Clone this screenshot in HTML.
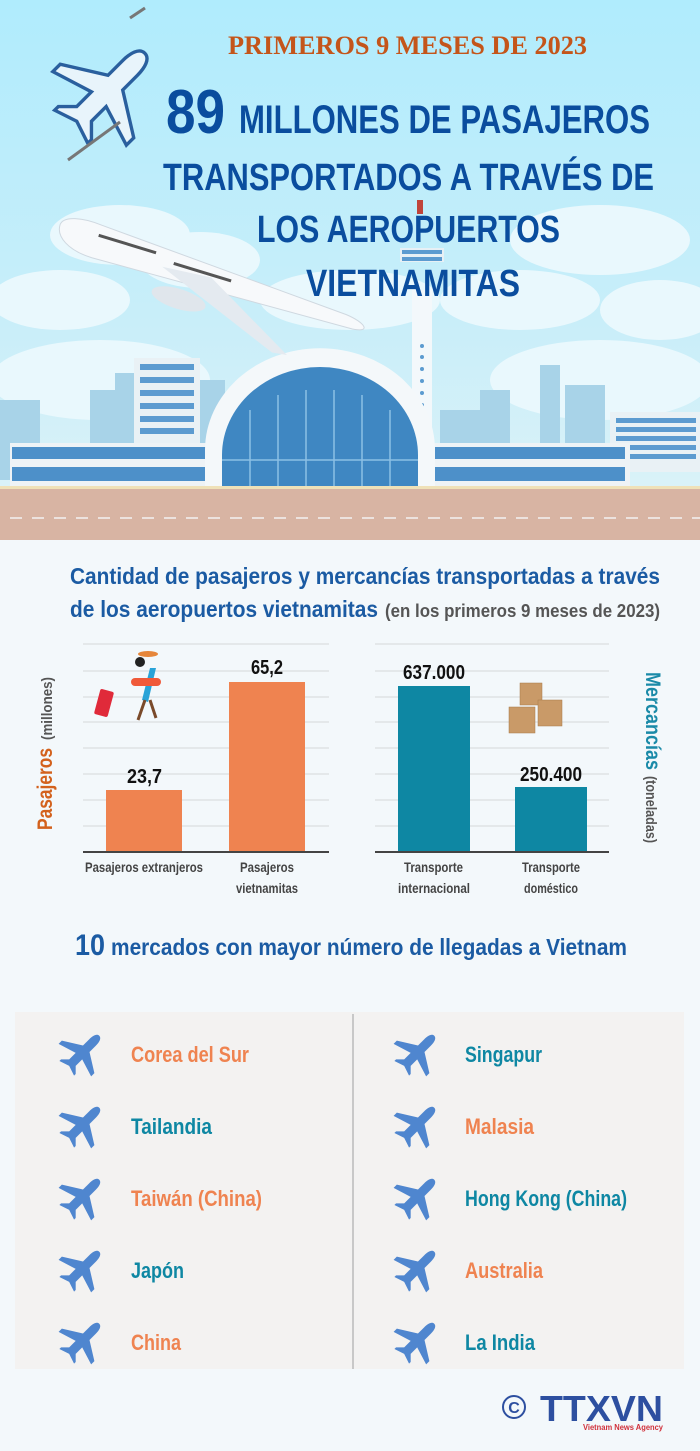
<!DOCTYPE html>
<html><head><meta charset="utf-8"><style>
html,body{margin:0;padding:0;background:#f3f8fb}
svg{display:block}
text{font-family:"Liberation Sans Narrow","Liberation Sans",sans-serif;font-weight:bold}
</style></head><body>
<svg width="700" height="1451" viewBox="0 0 700 1451" xmlns="http://www.w3.org/2000/svg">
<defs>
<linearGradient id="sky" x1="0" y1="0" x2="0" y2="1">
<stop offset="0" stop-color="#b0ecfd"/><stop offset="0.6" stop-color="#c9eef9"/><stop offset="1" stop-color="#dff3f8"/>
</linearGradient>
<g id="pl"><path d="M0,-20 C3,-20 4,-16 4,-12 L4,-4 L20,6 L20,10 L4,5 L4,13 L9,18 L9,20 L0,17 L-9,20 L-9,18 L-4,13 L-4,5 L-20,10 L-20,6 L-4,-4 L-4,-12 C-4,-16 -3,-20 0,-20Z" fill="#4f86cf"/></g>
</defs>
<rect x="0" y="0" width="700" height="540" fill="url(#sky)"/>
<g fill="#e9f8fd">
<ellipse cx="120" cy="235" rx="70" ry="30"/><ellipse cx="60" cy="300" rx="70" ry="30"/><ellipse cx="200" cy="260" rx="60" ry="28"/>
<ellipse cx="600" cy="240" rx="90" ry="35"/><ellipse cx="520" cy="300" rx="80" ry="30"/><ellipse cx="660" cy="310" rx="60" ry="30"/>
<ellipse cx="350" cy="300" rx="90" ry="30"/><ellipse cx="100" cy="380" rx="110" ry="40"/><ellipse cx="600" cy="380" rx="110" ry="40"/>
</g>
<g fill="#a8d3e8">
<rect x="0" y="400" width="40" height="80"/><rect x="90" y="390" width="40" height="90"/><rect x="115" y="373" width="20" height="100"/>
<rect x="200" y="380" width="25" height="100"/><rect x="480" y="390" width="30" height="90"/><rect x="540" y="365" width="20" height="115"/>
<rect x="565" y="385" width="40" height="95"/><rect x="440" y="410" width="40" height="70"/><rect x="250" y="405" width="40" height="75"/>
</g>
<rect x="412" y="290" width="20" height="140" fill="#f3f8fb"/>
<rect x="400" y="248" width="44" height="14" fill="#e7f0f5"/><rect x="402" y="250" width="40" height="4" fill="#5c9bd0"/><rect x="402" y="257" width="40" height="4" fill="#5c9bd0"/>
<rect x="417" y="200" width="6" height="14" fill="#c0443a"/>
<g fill="#5c9bd0"><circle cx="422" cy="346" r="2"/><circle cx="422" cy="357" r="2"/><circle cx="422" cy="369" r="2"/><circle cx="422" cy="381" r="2"/><circle cx="422" cy="393" r="2"/><circle cx="422" cy="405" r="2"/></g>
<rect x="134" y="358" width="66" height="90" fill="#e9f1f5"/>
<g fill="#5c9bd0"><rect x="140" y="364" width="54" height="6"/><rect x="140" y="377" width="54" height="6"/><rect x="140" y="390" width="54" height="6"/><rect x="140" y="403" width="54" height="6"/><rect x="140" y="416" width="54" height="6"/><rect x="140" y="428" width="54" height="6"/></g>
<rect x="610" y="412" width="90" height="60" fill="#e9f1f5"/>
<g fill="#5c9bd0"><rect x="616" y="418" width="80" height="5"/><rect x="616" y="427" width="80" height="5"/><rect x="616" y="436" width="80" height="5"/><rect x="616" y="445" width="80" height="5"/><rect x="616" y="454" width="80" height="5"/></g>
<rect x="10" y="443" width="620" height="45" fill="#eef3f6"/>
<g fill="#4d90c9"><rect x="12" y="447" width="195" height="12"/><rect x="12" y="467" width="195" height="14"/><rect x="435" y="447" width="190" height="12"/><rect x="435" y="467" width="190" height="14"/></g>
<path d="M205,488 L205,450 A113,100 0 0 1 435,450 L435,488Z" fill="#f4f8fa"/>
<path d="M222,488 L222,455 A98,88 0 0 1 418,455 L418,488Z" fill="#3f87c2"/>
<g stroke="#8cc0e5" stroke-width="1.5"><line x1="250" y1="410" x2="250" y2="488"/><line x1="278" y1="395" x2="278" y2="488"/><line x1="306" y1="390" x2="306" y2="488"/><line x1="334" y1="390" x2="334" y2="488"/><line x1="362" y1="395" x2="362" y2="488"/><line x1="390" y1="410" x2="390" y2="488"/><line x1="222" y1="460" x2="418" y2="460"/></g>
<rect x="0" y="486" width="700" height="54" fill="#d8b4a3"/>
<rect x="0" y="486" width="700" height="3" fill="#efe1b8"/>
<g stroke="#ece2de" stroke-width="2" stroke-dasharray="12,10"><line x1="10" y1="518" x2="700" y2="518"/></g>
<g transform="translate(60,225) rotate(17)">
<path d="M0,0 C0,-10 20,-14 40,-12 L300,2 C320,4 330,12 310,14 L40,22 C15,22 0,12 0,0Z" fill="#f7f9fb" stroke="#cfd8e0"/>
<path d="M110,10 L240,60 L255,58 L160,6Z" fill="#e4eaf0"/>
<ellipse cx="135" cy="36" rx="28" ry="10" fill="#e0e6ec"/>
<g fill="#555"><rect x="40" y="-3" width="60" height="3"/><rect x="120" y="2" width="60" height="3"/></g>
</g>
<g transform="translate(108,90) rotate(45) scale(2.6)" fill="#e8f4fb" stroke="#2a5f9e" stroke-width="1.3">
<path d="M0,-20 C3,-20 4,-16 4,-12 L4,-4 L20,6 L20,10 L4,5 L4,13 L9,18 L9,20 L0,17 L-9,20 L-9,18 L-4,13 L-4,5 L-20,10 L-20,6 L-4,-4 L-4,-12 C-4,-16 -3,-20 0,-20Z"/>
</g>
<line x1="130" y1="18" x2="145" y2="8" stroke="#777" stroke-width="3"/>
<line x1="68" y1="160" x2="120" y2="122" stroke="#777" stroke-width="3"/>
<text x="228" y="54" textLength="359" lengthAdjust="spacingAndGlyphs" style="font-family:'Liberation Serif',serif;font-size:26px" fill="#c4551a">PRIMEROS 9 MESES DE 2023</text>
<text x="166" y="133" textLength="59" lengthAdjust="spacingAndGlyphs" font-size="62" fill="#0a4d9e">89</text>
<text x="239" y="133" textLength="411" lengthAdjust="spacingAndGlyphs" font-size="40" fill="#0a4d9e">MILLONES DE PASAJEROS</text>
<text x="163" y="190" textLength="491" lengthAdjust="spacingAndGlyphs" font-size="38" fill="#0a4d9e">TRANSPORTADOS A TRAVÉS DE</text>
<text x="257" y="242" textLength="303" lengthAdjust="spacingAndGlyphs" font-size="38" fill="#0a4d9e">LOS AEROPUERTOS</text>
<text x="306" y="296" textLength="214" lengthAdjust="spacingAndGlyphs" font-size="38" fill="#0a4d9e">VIETNAMITAS</text>
<text x="70" y="584" textLength="590" lengthAdjust="spacingAndGlyphs" font-size="23" fill="#1b5ba3">Cantidad de pasajeros y mercancías transportadas a través</text>
<text x="70" y="617" textLength="308" lengthAdjust="spacingAndGlyphs" font-size="23" fill="#1b5ba3">de los aeropuertos vietnamitas</text>
<text x="385" y="617" textLength="275" lengthAdjust="spacingAndGlyphs" font-size="18" fill="#555">(en los primeros 9 meses de 2023)</text>
<g stroke="#d6d8da" stroke-width="1">
<line x1="83" y1="644" x2="329" y2="644"/><line x1="83" y1="671" x2="329" y2="671"/><line x1="83" y1="697" x2="329" y2="697"/><line x1="83" y1="722" x2="329" y2="722"/><line x1="83" y1="748" x2="329" y2="748"/><line x1="83" y1="774" x2="329" y2="774"/><line x1="83" y1="800" x2="329" y2="800"/><line x1="83" y1="826" x2="329" y2="826"/>
<line x1="375" y1="644" x2="609" y2="644"/><line x1="375" y1="671" x2="609" y2="671"/><line x1="375" y1="697" x2="609" y2="697"/><line x1="375" y1="722" x2="609" y2="722"/><line x1="375" y1="748" x2="609" y2="748"/><line x1="375" y1="774" x2="609" y2="774"/><line x1="375" y1="800" x2="609" y2="800"/><line x1="375" y1="826" x2="609" y2="826"/>
</g>
<rect x="106" y="790" width="76" height="62" fill="#ef8350"/>
<rect x="229" y="682" width="76" height="170" fill="#ef8350"/>
<rect x="398" y="686" width="72" height="166" fill="#0e87a3"/>
<rect x="515" y="787" width="72" height="65" fill="#0e87a3"/>
<line x1="83" y1="852" x2="329" y2="852" stroke="#444" stroke-width="2"/>
<line x1="375" y1="852" x2="609" y2="852" stroke="#444" stroke-width="2"/>
<g font-size="20" fill="#111">
<text x="127" y="783" textLength="35" lengthAdjust="spacingAndGlyphs">23,7</text>
<text x="251" y="674" textLength="32" lengthAdjust="spacingAndGlyphs">65,2</text>
<text x="403" y="679" textLength="62" lengthAdjust="spacingAndGlyphs">637.000</text>
<text x="520" y="781" textLength="62" lengthAdjust="spacingAndGlyphs">250.400</text>
</g>
<g font-size="14" fill="#444">
<text x="85" y="872" textLength="118" lengthAdjust="spacingAndGlyphs">Pasajeros extranjeros</text>
<text x="240" y="872" textLength="54" lengthAdjust="spacingAndGlyphs">Pasajeros</text>
<text x="236" y="893" textLength="62" lengthAdjust="spacingAndGlyphs">vietnamitas</text>
<text x="404" y="872" textLength="59" lengthAdjust="spacingAndGlyphs">Transporte</text>
<text x="398" y="893" textLength="72" lengthAdjust="spacingAndGlyphs">internacional</text>
<text x="522" y="872" textLength="58" lengthAdjust="spacingAndGlyphs">Transporte</text>
<text x="524" y="893" textLength="54" lengthAdjust="spacingAndGlyphs">doméstico</text>
</g>
<text transform="translate(52,830) rotate(-90)" font-size="21" fill="#d3611c" textLength="82" lengthAdjust="spacingAndGlyphs">Pasajeros</text>
<text transform="translate(52,740) rotate(-90)" font-size="15" fill="#555" textLength="63" lengthAdjust="spacingAndGlyphs">(millones)</text>
<text transform="translate(646,672) rotate(90)" font-size="21" fill="#1a8aa8" textLength="98" lengthAdjust="spacingAndGlyphs">Mercancías</text>
<text transform="translate(646,776) rotate(90)" font-size="15" fill="#555" textLength="67" lengthAdjust="spacingAndGlyphs">(toneladas)</text>
<g>
<path d="M150,668 L142,700 L148,702 L156,668Z" fill="#29a3d8"/>
<rect x="131" y="678" width="30" height="8" rx="4" fill="#f05a3a"/>
<path d="M145,700 L138,720 M150,700 L156,718" stroke="#7a4a2a" stroke-width="3"/>
<circle cx="140" cy="662" r="5" fill="#222"/><ellipse cx="148" cy="654" rx="10" ry="3" fill="#e6863a"/>
<rect x="97" y="690" width="14" height="26" rx="2" transform="rotate(15 104 703)" fill="#e02a3a"/>
</g>
<g fill="#c99a68" stroke="#a87a4a" stroke-width="0.5">
<rect x="520" y="683" width="22" height="22"/><rect x="509" y="707" width="26" height="26"/><rect x="538" y="700" width="24" height="26"/>
</g>
<text x="75" y="955" font-size="30" fill="#1b5ba3" textLength="30" lengthAdjust="spacingAndGlyphs">10</text>
<text x="111" y="955" textLength="516" lengthAdjust="spacingAndGlyphs" font-size="23" fill="#1b5ba3">mercados con mayor número de llegadas a Vietnam</text>
<rect x="15" y="1012" width="669" height="357" fill="#f3f2f1"/>
<line x1="353" y1="1014" x2="353" y2="1369" stroke="#c8c8c8" stroke-width="2"/>
<g>
<use href="#pl" transform="translate(83,1052) rotate(45) scale(1.15)"/>
<use href="#pl" transform="translate(83,1124) rotate(45) scale(1.15)"/>
<use href="#pl" transform="translate(83,1196) rotate(45) scale(1.15)"/>
<use href="#pl" transform="translate(83,1268) rotate(45) scale(1.15)"/>
<use href="#pl" transform="translate(83,1340) rotate(45) scale(1.15)"/>
<use href="#pl" transform="translate(418,1052) rotate(45) scale(1.15)"/>
<use href="#pl" transform="translate(418,1124) rotate(45) scale(1.15)"/>
<use href="#pl" transform="translate(418,1196) rotate(45) scale(1.15)"/>
<use href="#pl" transform="translate(418,1268) rotate(45) scale(1.15)"/>
<use href="#pl" transform="translate(418,1340) rotate(45) scale(1.15)"/>
</g>
<g font-size="22">
<text x="131" y="1062" fill="#ef8350" textLength="118" lengthAdjust="spacingAndGlyphs">Corea del Sur</text>
<text x="131" y="1134" fill="#0e87a3" textLength="81" lengthAdjust="spacingAndGlyphs">Tailandia</text>
<text x="131" y="1206" fill="#ef8350" textLength="131" lengthAdjust="spacingAndGlyphs">Taiwán (China)</text>
<text x="131" y="1278" fill="#0e87a3" textLength="53" lengthAdjust="spacingAndGlyphs">Japón</text>
<text x="131" y="1350" fill="#ef8350" textLength="50" lengthAdjust="spacingAndGlyphs">China</text>
<text x="465" y="1062" fill="#0e87a3" textLength="77" lengthAdjust="spacingAndGlyphs">Singapur</text>
<text x="465" y="1134" fill="#ef8350" textLength="69" lengthAdjust="spacingAndGlyphs">Malasia</text>
<text x="465" y="1206" fill="#0e87a3" textLength="162" lengthAdjust="spacingAndGlyphs">Hong Kong (China)</text>
<text x="465" y="1278" fill="#ef8350" textLength="78" lengthAdjust="spacingAndGlyphs">Australia</text>
<text x="465" y="1350" fill="#0e87a3" textLength="70" lengthAdjust="spacingAndGlyphs">La India</text>
</g>
<circle cx="514" cy="1407" r="11" fill="none" stroke="#2d4fa0" stroke-width="2"/>
<text x="514" y="1413" font-size="16" fill="#2d4fa0" text-anchor="middle">C</text>
<text x="540" y="1421" textLength="123" lengthAdjust="spacingAndGlyphs" font-size="36" fill="#2d4fa0" style="font-family:'Liberation Sans',sans-serif;font-weight:900">TTXVN</text>
<text x="583" y="1430" textLength="80" lengthAdjust="spacingAndGlyphs" font-size="8" fill="#d0303a">Vietnam News Agency</text>
</svg>
</body></html>
